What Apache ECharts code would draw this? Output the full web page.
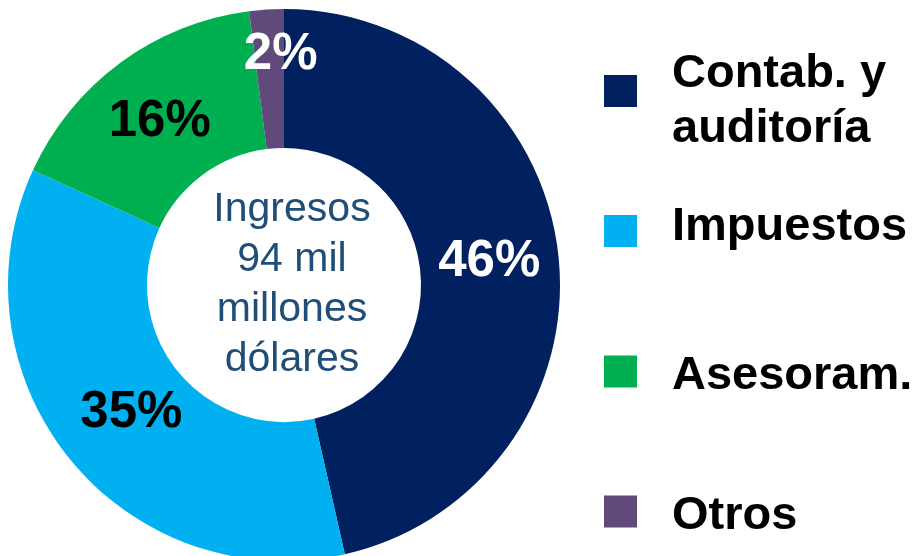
<!DOCTYPE html>
<html lang="es">
<head>
    <meta charset="UTF-8">
    <title>Ingresos por servicio</title>
    <script src="https://cdn.jsdelivr.net/npm/echarts@6.0.0/dist/echarts.min.js"></script>
    <style>html, body { margin: 0; padding: 0; background: #fff; }</style>
</head>
<body>
    <div id="main" style="width: 916px;height:556px;"></div>
    <script type="text/javascript">
        // data
        const categories = ['Contab. y\nauditoría', 'Impuestos', 'Asesoram.', 'Otros'];
        const shares = [46, 35, 16, 2];
        const centerText = 'Ingresos\n94 mil\nmillones\ndólares';

        // styling
        const colors = ['#002060', '#00B0F0', '#00B050', '#604A7B'];
        const labelColors = ['#ffffff', '#000000', '#000000', '#ffffff'];
        const labelOffsets = [[-3, 0], [10, -4], [0, 6], [10, -21]];
        const legendTops = [34, 204, 342, 482];
        // spacer line above (+) or below (-) the text, to nudge it against the square
        const legendNudge = [22, -7, 10, 10];
        const font = "'Liberation Sans', Arial, sans-serif";

        let myChart = echarts.init(document.getElementById('main'));

        let legends = categories.map((name, i) => ({
            data: [name],
            orient: 'vertical',
            left: 604,
            top: legendTops[i],
            padding: 0,
            icon: 'rect',
            itemWidth: 33,
            itemHeight: 32,
            selectedMode: false,
            formatter: n => {
                const body = n.split('\n').map(l => '{t|' + l + '}').join('\n');
                return legendNudge[i] > 0 ? '{s| }\n' + body : body + '\n{s| }';
            },
            textStyle: {
                fontFamily: font,
                fontSize: 47,
                fontWeight: 'bold',
                color: '#000',
                padding: [0, 0, 0, 30],
                rich: {
                    t: { fontFamily: font, fontSize: 47, fontWeight: 'bold', color: '#000', lineHeight: 55 },
                    s: { fontSize: 4, lineHeight: Math.abs(legendNudge[i]) }
                }
            }
        }));

        let options = {
            animation: false,
            color: colors,
            legend: legends,
            graphic: [{
                type: 'text',
                x: 292,
                y: 285,
                style: {
                    text: centerText,
                    fontFamily: font,
                    fontSize: 41,
                    lineHeight: 50,
                    fill: '#1F4E79',
                    align: 'center',
                    verticalAlign: 'middle'
                }
            }],
            series: [{
                type: 'pie',
                center: [284, 285],
                radius: [137, 276],
                startAngle: 90,
                clockwise: true,
                avoidLabelOverlap: false,
                emphasis: { disabled: true },
                labelLine: { show: false },
                data: categories.map((name, i) => ({
                    name: name,
                    value: shares[i],
                    label: { color: labelColors[i], offset: labelOffsets[i] }
                })),
                label: {
                    show: true,
                    position: 'inside',
                    formatter: '{c}%',
                    fontFamily: font,
                    fontSize: 51,
                    fontWeight: 'bold',
                    textBorderWidth: 0
                }
            }]
        };

        myChart.setOption(options);
    </script>
</body>
</html>
